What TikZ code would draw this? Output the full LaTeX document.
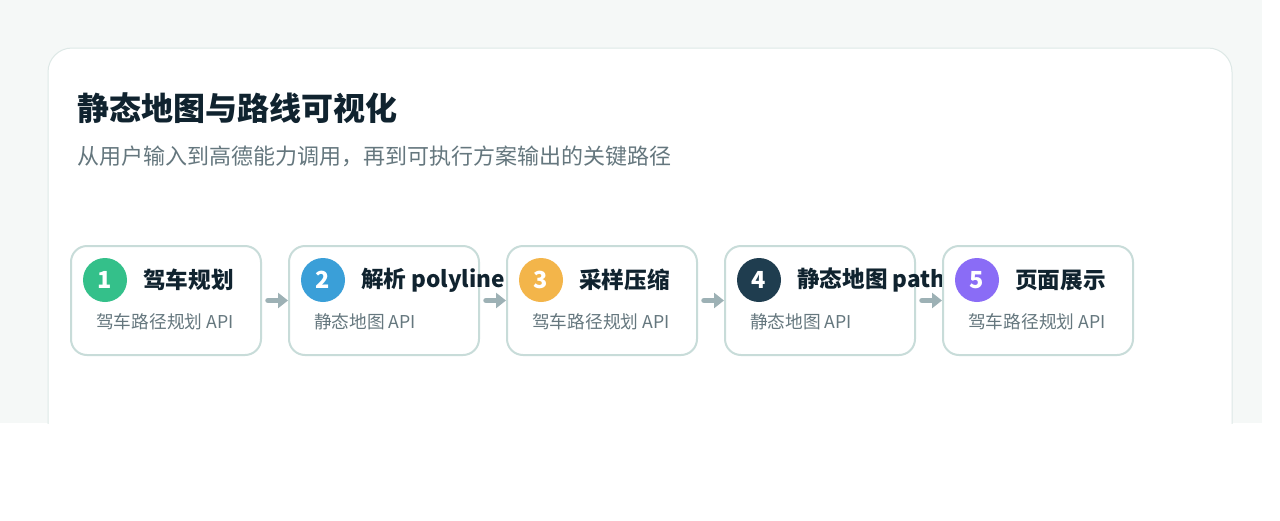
\documentclass[tikz,border=0pt]{standalone}
\usepackage{fontspec}
\setmainfont{Noto Sans CJK SC}
\usepackage{tikz}
\usetikzlibrary{calc, positioning, arrows.meta}
\definecolor{pagebg}{HTML}{F5F8F7}
\definecolor{cardline}{HTML}{DDE8E6}
\definecolor{boxline}{HTML}{C8DCD9}
\definecolor{flowgrey}{HTML}{9DB1B5}
\definecolor{inkdark}{HTML}{10232F}
\definecolor{inkgrey}{HTML}{65777E}
\definecolor{stepgreen}{HTML}{34C08A}
\definecolor{stepblue}{HTML}{3A9FD8}
\definecolor{stepyellow}{HTML}{F3B54A}
\definecolor{stepnavy}{HTML}{1F3D4F}
\definecolor{steppurple}{HTML}{8A6CF6}

\begin{document}
\begin{tikzpicture}[
  x=1pt, y=-1pt,
  stepbox/.style={draw=boxline, line width=2pt, fill=white, rounded corners=16pt, minimum width=190pt, minimum height=109pt, anchor=north west, inner sep=0pt},
  badge/.style={circle, minimum size=44pt, inner sep=0pt, text=white, font=\fontsize{23.5}{25}\selectfont\bfseries},
  boxtitle/.style={anchor=west, inner sep=0pt, text=inkdark, font=\fontsize{22.6}{25}\selectfont\bfseries},
  boxsub/.style={anchor=west, inner sep=0pt, text=inkgrey, font=\fontsize{17.7}{20}\selectfont},
  flow/.style={draw=flowgrey, line width=5.5pt, line cap=round, shorten <=6pt, -{Triangle[length=10pt, width=15pt]}}
]
\useasboundingbox (0,0) rectangle (1280,520);
\fill[pagebg] (0,0) rectangle (1262,423);
\begin{scope}
  \clip (0,0) rectangle (1262,423);
  \draw[cardline, fill=white, line width=1pt, rounded corners=24pt] (48,48) rectangle (1232,470);
\end{scope}

% Heading
\node[anchor=west, inner sep=0pt, text=inkdark, font=\fontsize{32}{35}\selectfont\bfseries] (head) at (77,108) {静态地图与路线可视化};
\node[anchor=west, inner sep=0pt, text=inkgrey, font=\fontsize{22}{26}\selectfont] (subhead) at (77,156) {从用户输入到高德能力调用，再到可执行方案输出的关键路径};

% Step 1: driving
\node[stepbox] (b1) at (70,245) {};
\node[badge, fill=stepgreen] (n1) at (105,280) {1};
\node[boxtitle] (t1) at (143,280) {驾车规划};
\node[boxsub] (s1) at (96,322) {驾车路径规划 API};

% Step 2: polyline
\node[stepbox] (b2) at (288,245) {};
\draw[flow] (b1.east) -- (b2.west);
\node[badge, fill=stepblue] (n2) at (323,280) {2};
\node[boxtitle] (t2) at (361,280) {解析 polyline};
\node[boxsub] (s2) at (314,322) {静态地图 API};

% Step 3: sampling
\node[stepbox] (b3) at (506,245) {};
\draw[flow] (b2.east) -- (b3.west);
\node[badge, fill=stepyellow] (n3) at (541,280) {3};
\node[boxtitle] (t3) at (579,280) {采样压缩};
\node[boxsub] (s3) at (532,322) {驾车路径规划 API};

% Step 4: static map path
\node[stepbox] (b4) at (724,245) {};
\draw[flow] (b3.east) -- (b4.west);
\node[badge, fill=stepnavy] (n4) at (759,280) {4};
\node[boxtitle] (t4) at (797,280) {静态地图 path};
\node[boxsub] (s4) at (750,322) {静态地图 API};

% Step 5: page
\node[stepbox] (b5) at (942,245) {};
\draw[flow] (b4.east) -- (b5.west);
\node[badge, fill=steppurple] (n5) at (977,280) {5};
\node[boxtitle] (t5) at (1015,280) {页面展示};
\node[boxsub] (s5) at (968,322) {驾车路径规划 API};
\end{tikzpicture}
\end{document}
